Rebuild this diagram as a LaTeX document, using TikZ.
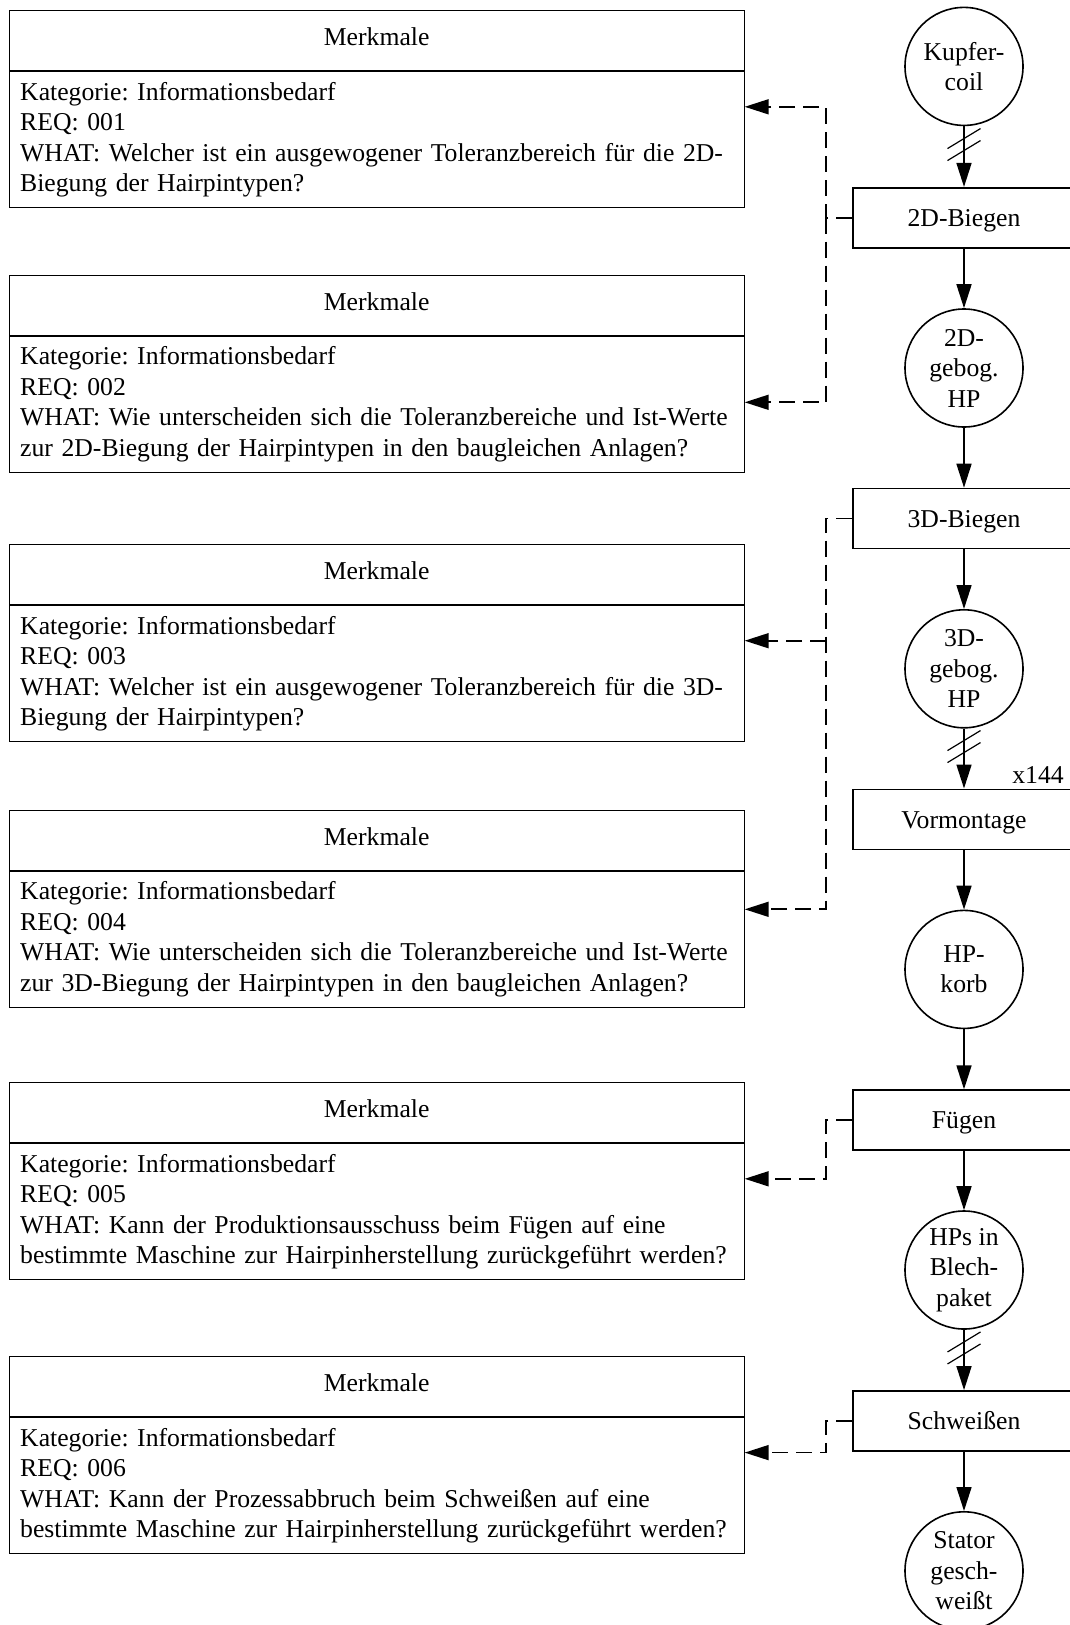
\documentclass[tikz,border=0pt]{standalone}
\usepackage{fontspec}
\setmainfont{Liberation Serif}
\usetikzlibrary{arrows.meta,calc}
\frenchspacing

\begin{document}
\begin{tikzpicture}[x=1pt,y=-1pt,
  every node/.style={font=\fontsize{25.7}{30.5}\selectfont},
  hdr/.style={draw, line width=1pt, minimum width=735pt, minimum height=60pt,
    inner sep=0pt, text depth=8pt, anchor=north},
  bodybox/.style={draw, line width=1pt, minimum width=735pt, minimum height=136pt,
    text width=713pt, inner xsep=11pt, inner ysep=0pt, align=left, anchor=north},
  procbox/.style={draw, line width=1.6pt, minimum width=222pt, minimum height=60pt,
    inner sep=0pt, text height=17.5pt, text depth=0pt},
  circ/.style={draw, circle, line width=1.6pt, minimum size=118pt, inner sep=0pt, align=center},
  flow/.style={line width=1.6pt, -{Triangle[length=24pt,width=15pt]}},
  fb/.style={line width=1.7pt, dash pattern=on 16pt off 8pt, -{Triangle[length=24pt,width=15pt]}},
  dblslash/.pic={\draw[line width=1.2pt] (-16.5,4) -- (16.5,-16) (-16.5,16) -- (16.5,-4);}
]
\useasboundingbox (0,0) rectangle (1070,1625);
\clip (0,0) rectangle (1070,1625);

% ---- feature boxes (left column) ----
\node[hdr] (m1h) at (376.7,10.4) {Merkmale};
\node[bodybox] (m1b) at (m1h.south) {Kategorie: Informationsbedarf\\REQ: 001\\WHAT: Welcher ist ein ausgewogener Toleranzbereich für die 2D-\\Biegung der Hairpintypen?};

\node[hdr] (m2h) at (376.7,274.8) {Merkmale};
\node[bodybox] (m2b) at (m2h.south) {Kategorie: Informationsbedarf\\REQ: 002\\WHAT: Wie unterscheiden sich die Toleranzbereiche und Ist-Werte\\zur 2D-Biegung der Hairpintypen in den baugleichen Anlagen?};

\node[hdr] (m3h) at (376.7,544.3) {Merkmale};
\node[bodybox] (m3b) at (m3h.south) {Kategorie: Informationsbedarf\\REQ: 003\\WHAT: Welcher ist ein ausgewogener Toleranzbereich für die 3D-\\Biegung der Hairpintypen?};

\node[hdr] (m4h) at (376.7,809.7) {Merkmale};
\node[bodybox] (m4b) at (m4h.south) {Kategorie: Informationsbedarf\\REQ: 004\\WHAT: Wie unterscheiden sich die Toleranzbereiche und Ist-Werte\\zur 3D-Biegung der Hairpintypen in den baugleichen Anlagen?};

\node[hdr] (m5h) at (376.7,1082.4) {Merkmale};
\node[bodybox] (m5b) at (m5h.south) {Kategorie: Informationsbedarf\\REQ: 005\\WHAT: Kann der Produktionsausschuss beim Fügen auf eine\\bestimmte Maschine zur Hairpinherstellung zurückgeführt werden?};

\node[hdr] (m6h) at (376.7,1356.1) {Merkmale};
\node[bodybox] (m6b) at (m6h.south) {Kategorie: Informationsbedarf\\REQ: 006\\WHAT: Kann der Prozessabbruch beim Schweißen auf eine\\bestimmte Maschine zur Hairpinherstellung zurückgeführt werden?};

% ---- process chain (right column) ----
\node[circ] (kc) at (964,66.4) {Kupfer-\\coil};
\node[procbox] (b2d) at (964,217.7) {2D-Biegen};
\node[circ] (hp2d) at (964,368) {2D-\\gebog.\\HP};
\node[procbox] (b3d) at (964,518.5) {3D-Biegen};
\node[circ] (hp3d) at (964,668.8) {3D-\\gebog.\\HP};
\node[procbox] (vm) at (964,819.3) {Vormontage};
\node[circ] (korb) at (964,969.4) {HP-\\korb};
\node[procbox] (fg) at (964,1120.1) {Fügen};
\node[circ] (blech) at (964,1270) {HPs in\\Blech-\\paket};
\node[procbox] (sw) at (964,1420.9) {Schweißen};
\node[circ] (stator) at (964,1570.8) {Stator\\gesch-\\weißt};
\node (cnt) at (1038,775) {x144};

\draw[flow] (kc) -- (b2d);
\draw[flow] (b2d) -- (hp2d);
\draw[flow] (hp2d) -- (b3d);
\draw[flow] (b3d) -- (hp3d);
\draw[flow] (hp3d) -- (vm);
\draw[flow] (vm) -- (korb);
\draw[flow] (korb) -- (fg);
\draw[flow] (fg) -- (blech);
\draw[flow] (blech) -- (sw);
\draw[flow] (sw) -- (stator);

\pic at ($(kc.south)!0.5!(b2d.north)+(0,-12)$) {dblslash};
\pic at ($(hp3d.south)!0.5!(vm.north)+(0,-12)$) {dblslash};
\pic at ($(blech.south)!0.5!(sw.north)+(0,-12)$) {dblslash};

% ---- requirement links ----
\coordinate (j2d) at ($(b2d.west)+(-26,0)$);
\coordinate (j3d) at ($(b3d.west)+(-26,0)$);
\coordinate (jfg) at ($(fg.west)+(-26,0)$);
\coordinate (jsw) at ($(sw.west)+(-26,0)$);
\coordinate (a1) at (m1b.east |- 0,106.8);
\coordinate (a2) at (m2b.east |- 0,402.3);
\coordinate (a3) at (m3b.east |- 0,640.7);
\coordinate (a4) at (m4b.east |- 0,909.3);
\coordinate (a5) at (m5b.east |- 0,1178.8);
\coordinate (a6) at (m6b.east |- 0,1452.6);

\draw[fb] (b2d.west) -- (j2d) |- (a1);
\draw[fb] (j2d) |- (a2);
\draw[fb] (b3d.west) -- (j3d) |- (a4);
\draw[fb] (j3d |- a3) -- (a3);
\draw[fb] (fg.west) -- (jfg) |- (a5);
\draw[fb] (sw.west) -- (jsw) |- (a6);
\end{tikzpicture}
\end{document}
